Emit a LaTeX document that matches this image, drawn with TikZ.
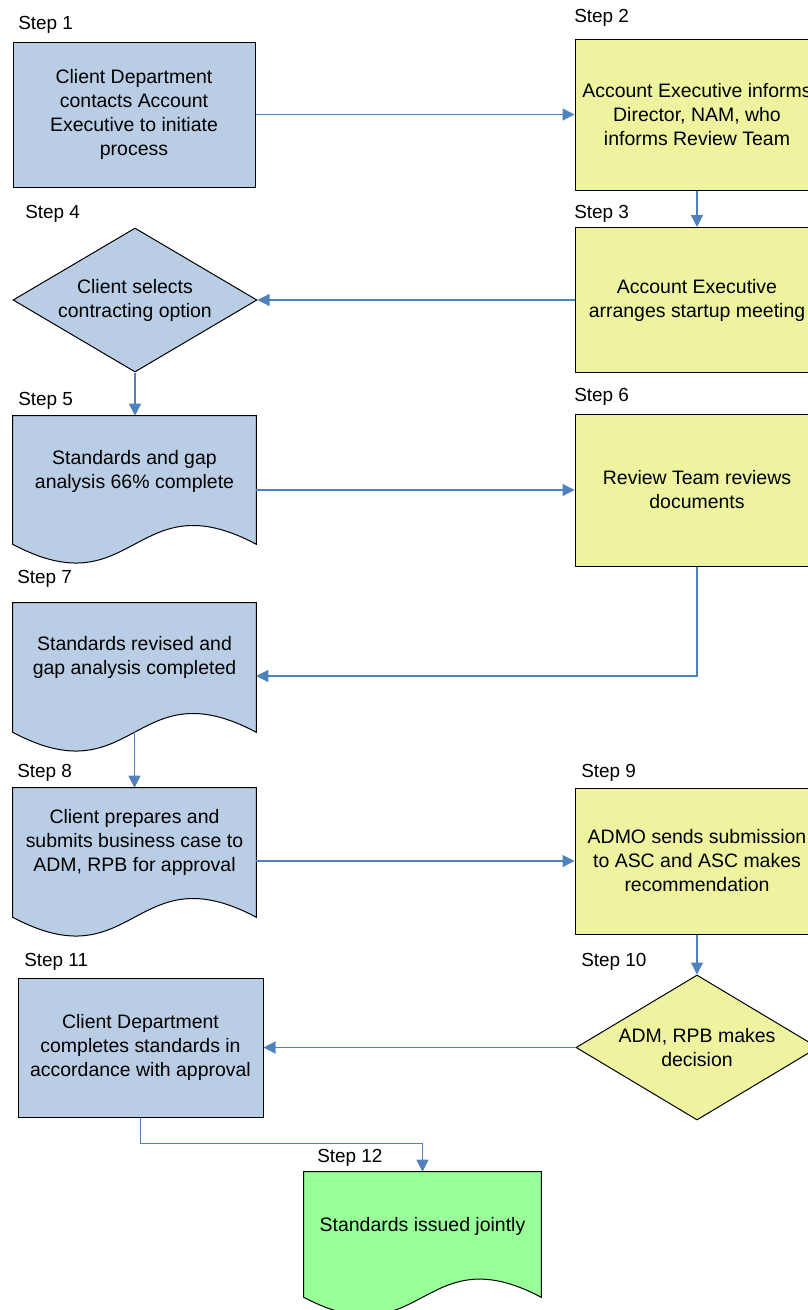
\documentclass[tikz,border=0pt]{standalone}
\usepackage{fontspec}
\setmainfont{Liberation Sans}
\usetikzlibrary{arrows.meta,shapes.geometric,calc}
\definecolor{bluefill}{RGB}{185,205,229}
\definecolor{yelfill}{RGB}{238,243,160}
\definecolor{grnfill}{RGB}{153,255,153}
\definecolor{conn}{RGB}{79,129,189}
\begin{document}
\begin{tikzpicture}[x=0.75pt,y=-0.75pt,
  font=\fontsize{14.6pt}{18pt}\selectfont,
  box/.style={draw=black, line width=0.75pt, rectangle, inner sep=0pt, align=center},
  bluebox/.style={box, fill=bluefill},
  yelbox/.style={box, fill=yelfill},
  docanchor/.style={rectangle, inner sep=0pt},
  doctext/.style={inner sep=0pt, align=center},
  decision/.style={diamond, draw=black, line width=0.75pt, inner sep=0pt, shape aspect=1.69, align=center},
  steplabel/.style={anchor=base west, inner sep=0pt, font=\fontsize{14.2pt}{18pt}\selectfont},
  flow/.style={draw=conn, line width=0.9pt, -{Triangle[length=9pt,width=9pt]}}
]
\useasboundingbox (0,0) rectangle (807,1310);

% Step labels
\node[steplabel] (s1) at (18,29) {Step 1};
\node[steplabel] (s2) at (574,22) {Step 2};
\node[steplabel] (s3) at (574,218) {Step 3};
\node[steplabel] (s4) at (25,218) {Step 4};
\node[steplabel] (s5) at (18,405) {Step 5};
\node[steplabel] (s6) at (574,401) {Step 6};
\node[steplabel] (s7) at (17,583) {Step 7};
\node[steplabel] (s8) at (17,777) {Step 8};
\node[steplabel] (s9) at (581,777) {Step 9};
\node[steplabel] (s10) at (581,966) {Step 10};
\node[steplabel] (s11) at (24,966) {Step 11};
\node[steplabel] (s12) at (317,1162) {Step 12};

% Plain boxes
\node[bluebox, minimum width=181.5pt, minimum height=108.75pt] (b1) at (134,114.5)
  {Client Department\\contacts Account\\Executive to initiate\\process};
\node[yelbox, minimum width=183pt, minimum height=113.25pt] (b2) at (697,114.5)
  {Account Executive informs\\Director, NAM, who\\informs Review Team};
\node[yelbox, minimum width=183pt, minimum height=108.75pt] (b3) at (697,300)
  {Account Executive\\arranges startup meeting};
\node[decision, fill=bluefill, minimum width=183pt, minimum height=108pt] (d4) at (135,300)
  {Client selects\\contracting option};
\node[yelbox, minimum width=183pt, minimum height=114pt] (b6) at (697,490)
  {Review Team reviews\\documents};
\node[yelbox, minimum width=183pt, minimum height=109.5pt] (b9) at (697,861)
  {ADMO sends submission\\to ASC and ASC makes\\recommendation};
\node[decision, fill=yelfill, minimum width=181.5pt, minimum height=108.75pt] (d10) at (697,1047.5)
  {ADM, RPB makes\\decision};
\node[bluebox, minimum width=183.75pt, minimum height=104.25pt] (b11) at (140.5,1047.5)
  {Client Department\\completes standards in\\accordance with approval};

% Document shapes (anchor rectangles up to the wave's end points)
\node[docanchor, minimum width=182.25pt, minimum height=96pt] (b5) at (134.5,480) {};
\node[docanchor, minimum width=182.25pt, minimum height=96.75pt] (b7) at (134.5,667.5) {};
\node[docanchor, minimum width=182.25pt, minimum height=96.75pt] (b8) at (134.5,852.5) {};
\node[docanchor, minimum width=177.75pt, minimum height=93.75pt] (b12) at (422.5,1234.5) {};

\foreach \d/\c/\k in {b5/bluefill/65, b7/bluefill/65, b8/bluefill/65, b12/grnfill/63}{
  \draw[line width=0.75pt, fill=\c] (\d.north west) -- (\d.north east) -- (\d.south east)
    .. controls ($(\d.south)+(0,-\k)$) and ($(\d.south)+(0,\k)$) .. (\d.south west) -- cycle;
}
\node[doctext] (b5t) at (134.5,471.5) {Standards and gap\\analysis 66\% complete};
\node[doctext] (b7t) at (134.5,657) {Standards revised and\\gap analysis completed};
\node[doctext] (b8t) at (134.5,842) {Client prepares and\\submits business case to\\ADM, RPB for approval};
\node[doctext] (b12t) at (422.5,1226) {Standards issued jointly};

% Connectors
\draw[flow] (b1.east) -- (b2.west);
\draw[flow] (b2.south) -- (b3.north);
\draw[flow] (b3.west) -- (d4.east);
\draw[flow] (d4.south) -- (d4.south |- b5.north);
\draw[flow] (b5.east |- b6.west) -- (b6.west);
\draw[flow] (b6.south) |- ($(b7.east)+(0,8.5)$);
\draw[flow] (b7.south) -- (b8.north);
\draw[flow] (b8.east |- b9.west) -- (b9.west);
\draw[flow] (b9.south) -- (d10.north);
\draw[flow] (d10.west) -- (b11.east);
\draw[flow] (b11.south) -- ++(0,26) -| (b12.north);
\end{tikzpicture}
\end{document}
